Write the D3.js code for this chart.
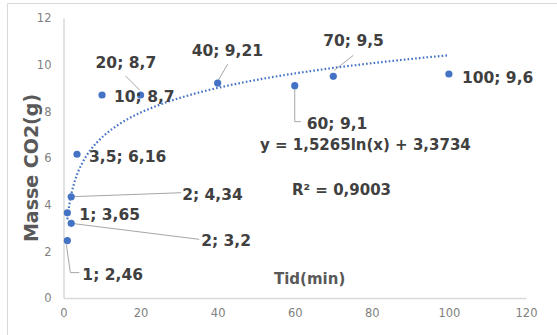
<!DOCTYPE html>
<html lang="en">
  <head>
    <meta charset="UTF-8" />
    <title>Masse CO2</title>
    <style>
      body { margin: 0; background: #fff; }
      svg { display: block; }
    </style>
  </head>
  <body>
    <svg id="chart" width="557" height="335"></svg>
    <script src="https://cdn.jsdelivr.net/npm/d3@7"></script>
    <script>
      // values
      var tid = [1, 1, 2, 2, 3.5, 10, 20, 40, 60, 70, 100];
      var masse = [2.46, 3.65, 3.2, 4.34, 6.16, 8.7, 8.7, 9.21, 9.1, 9.5, 9.6];
      var labelText = ['1; 2,46', '1; 3,65', '2; 3,2', '2; 4,34', '3,5; 6,16', '10; 8,7',
                       '20; 8,7', '40; 9,21', '60; 9,1', '70; 9,5', '100; 9,6'];
      var xTicks = [0, 20, 40, 60, 80, 100, 120];
      var yTicks = [0, 2, 4, 6, 8, 10, 12];
      // log trendline y = a ln(x) + b
      var trendA = 1.5265;
      var trendB = 3.3734;
      var trendRange = [1, 100];
      var eqText = 'y = 1,5265ln(x) + 3,3734';
      var r2Text = 'R² = 0,9003';

      // label placement (offset from the point, leader polyline offsets)
      var labelPos = [
        { dx: 15, dy: 34, leader: [[-1, 4], [3, 32], [12, 32]] },
        { dx: 12, dy: 2 },
        { dx: 130, dy: 17, leader: [[0, 0], [128, 16]] },
        { dx: 111, dy: -2, leader: [[0, 0], [110, -4]] },
        { dx: 12, dy: 2 },
        { dx: 12, dy: 1 },
        { dx: -45, dy: -33, leader: [[-1, -5], [-15, -19]] },
        { dx: -26, dy: -33, leader: [[-1, 0], [10, -19]] },
        { dx: 12, dy: 38, leader: [[0, 2], [0, 36], [6, 36]] },
        { dx: -10, dy: -36, leader: [[1, -6], [20, -21]] },
        { dx: 13, dy: 3 }
      ];

      var svg = d3.select('#chart');
      var x = d3.scaleLinear().domain([0, 120]).range([63.5, 526]);
      var y = d3.scaleLinear().domain([0, 12]).range([298, 18]);

      // chart frame
      svg.append('path')
        .attr('d', 'M7.5,335 V3.5 H557')
        .attr('fill', 'none')
        .attr('stroke', '#d9d9d9')
        .attr('stroke-width', 1);

      var xAxis = svg.append('g')
        .attr('transform', 'translate(0,298)')
        .call(d3.axisBottom(x).tickValues(xTicks).tickSize(0).tickPadding(11));
      var yAxis = svg.append('g')
        .attr('transform', 'translate(63.5,0)')
        .call(d3.axisLeft(y).tickValues(yTicks).tickSize(0).tickPadding(12));

      [xAxis, yAxis].forEach(function (g) {
        g.select('.domain').attr('stroke', '#d9d9d9').attr('stroke-width', 1.5);
        g.selectAll('text')
          .attr('fill', '#7f7f7f')
          .style('font', '11.5px "DejaVu Sans", sans-serif');
      });

      // axis titles
      svg.append('text')
        .attr('transform', 'translate(38,168) rotate(-90)')
        .attr('text-anchor', 'middle')
        .attr('fill', '#595959')
        .style('font', 'bold 19px "DejaVu Sans", sans-serif')
        .text('Masse CO2(g)');
      svg.append('text')
        .attr('x', 274)
        .attr('y', 284)
        .attr('fill', '#595959')
        .style('font', 'bold 15px "DejaVu Sans", sans-serif')
        .text('Tid(min)');

      // trendline
      var trend = d3.range(trendRange[0], trendRange[1] + 0.5, 0.5).map(function (t) {
        return [t, trendA * Math.log(t) + trendB];
      });
      svg.append('path')
        .datum(trend)
        .attr('fill', 'none')
        .attr('stroke', '#4472c4')
        .attr('stroke-width', 2.2)
        .attr('stroke-dasharray', '1.6,2.2')
        .attr('d', d3.line().x(function (d) { return x(d[0]); }).y(function (d) { return y(d[1]); }));

      var data = tid.map(function (t, i) {
        return { t: t, m: masse[i], label: labelText[i], pos: labelPos[i] };
      });

      // leader lines
      svg.append('g')
        .selectAll('path')
        .data(data.filter(function (d) { return d.pos.leader; }))
        .join('path')
        .attr('fill', 'none')
        .attr('stroke', '#a6a6a6')
        .attr('stroke-width', 1)
        .attr('d', function (d) {
          return d3.line()(d.pos.leader.map(function (p) {
            return [x(d.t) + p[0], y(d.m) + p[1]];
          }));
        });

      svg.append('g')
        .selectAll('circle')
        .data(data)
        .join('circle')
        .attr('cx', function (d) { return x(d.t); })
        .attr('cy', function (d) { return y(d.m); })
        .attr('r', 3.6)
        .attr('fill', '#4472c4');

      svg.append('g')
        .style('font', 'bold 15.5px "DejaVu Sans", sans-serif')
        .attr('fill', '#404040')
        .selectAll('text')
        .data(data)
        .join('text')
        .attr('x', function (d) { return x(d.t) + d.pos.dx; })
        .attr('y', function (d) { return y(d.m) + d.pos.dy; })
        .attr('dy', '0.36em')
        .text(function (d) { return d.label; });

      // trendline equation
      svg.append('text')
        .attr('x', 260)
        .attr('y', 145)
        .attr('dy', '0.36em')
        .attr('fill', '#404040')
        .style('font', 'bold 15px "DejaVu Sans", sans-serif')
        .text(eqText);
      svg.append('text')
        .attr('x', 292)
        .attr('y', 190)
        .attr('dy', '0.36em')
        .attr('fill', '#404040')
        .style('font', 'bold 15px "DejaVu Sans", sans-serif')
        .text(r2Text);
    </script>
  </body>
</html>
